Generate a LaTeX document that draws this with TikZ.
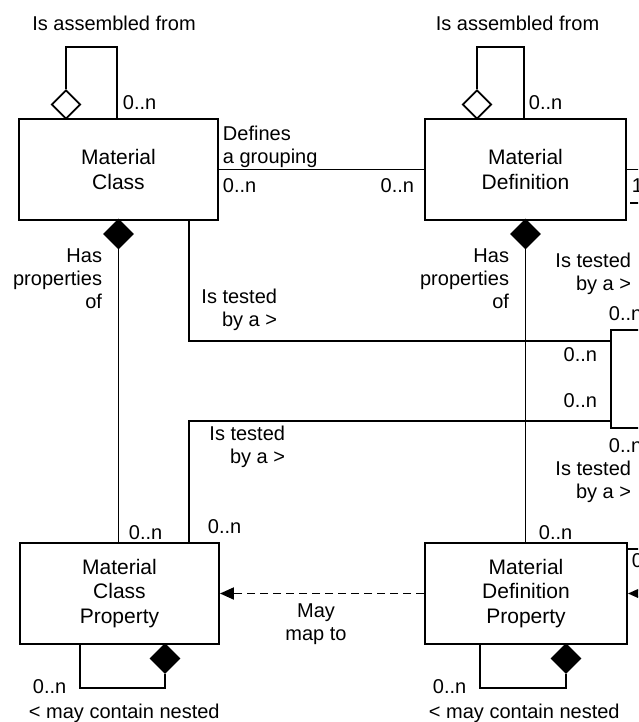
\documentclass[tikz,border=0pt]{standalone}
\usepackage{fontspec}
\setmainfont{Liberation Sans}
\usetikzlibrary{shapes.geometric,arrows.meta}

\begin{document}
\begin{tikzpicture}[x=1pt,y=-1pt,
  line width=1.9pt,
  entity/.style={draw, rectangle, align=center, minimum width=#1,
    minimum height=101pt, inner sep=0pt,
    font=\fontsize{21}{24.5}\selectfont},
  aggr/.style={draw, diamond, aspect=1, minimum width=29pt,
    minimum height=29pt, inner sep=0pt, fill=white},
  comp/.style={aggr, fill=black},
  lbl/.style={inner sep=0pt, font=\fontsize{20}{23}\selectfont},
  maplink/.style={dash pattern=on 8pt off 5pt,
    -{Triangle[length=14pt,width=12pt]}}
]
\useasboundingbox (0,0) rectangle (638,722);
\clip (0,0) rectangle (638,722);

% entities
\node[entity=199pt] (MC)  at (118.5,169.5) {Material\\Class};
\node[entity=201pt] (MD)  at (525.5,169.5) {Material\\Definition};
\node[entity=199pt] (MCP) at (119.5,593.5) {Material\\Class\\Property};
\node[entity=202pt] (MDP) at (526,593.5)   {Material\\Definition\\Property};
\node[entity=98pt, minimum height=98pt] (T) at (660,379) {};

% aggregation and composition diamonds
\node[aggr] (mcasm)   at (66,104.5) {};
\node[aggr] (mdasm)   at (477,104.5) {};
\node[comp] (mcprop)  at (118.5,234) {};
\node[comp] (mdprop)  at (525.5,234) {};
\node[comp] (mcpnest) at (165,658.5) {};
\node[comp] (mdpnest) at (566,658.5) {};

% self assembly loops
\coordinate (mcl) at (117,47);
\draw (mcasm.north) |- (mcl) -- (mcl |- MC.north);
\coordinate (mdl) at (524,47);
\draw (mdasm.north) |- (mdl) -- (mdl |- MD.north);

% grouping
\draw (MC.east) -- (MD.west);

% property compositions
\draw (mcprop.south) -- (mcprop.south |- MCP.north);
\draw (mdprop.south) -- (mdprop.south |- MDP.north);

% test links
\coordinate (t1) at (189,341);
\draw (t1 |- MC.south) -- (t1) -- (t1 -| T.west);
\coordinate (t2) at (189,421);
\draw (t2 |- MCP.north) -- (t2) -- (t2 -| T.west);

% nested property loops
\coordinate (n1) at (80,688);
\draw (n1 |- MCP.south) -- (n1) -| (mcpnest.south);
\coordinate (n2) at (480,688);
\draw (n2 |- MDP.south) -- (n2) -| (mdpnest.south);

% mapping
\draw[maplink] (MDP.west) -- (MCP.east);

% links leaving on the right
\coordinate (r1) at (650,169.5);
\draw (MD.east) -- (r1);
\coordinate (r2a) at (630,203);
\coordinate (r2b) at (650,203);
\draw (r2a) -- (r2b);
\coordinate (r3a) at (628,549);
\coordinate (r3b) at (650,549);
\draw (r3a) -- (r3b);
\coordinate (r4) at (665,0);
\draw[maplink] (r4 |- MDP.east) -- (MDP.east);

% labels
\node[lbl, anchor=base] (la1) at (114,31) {Is assembled from};
\node[lbl, anchor=base] (la2) at (517.5,31) {Is assembled from};
\node[lbl, anchor=base west] (lm1) at (122,110) {0..n};
\node[lbl, anchor=base west] (lm2) at (528,110) {0..n};
\node[lbl, anchor=north west, align=left] (lg) at (222,125.5) {Defines\\a grouping};
\node[lbl, anchor=base west] (lm3) at (222,192) {0..n};
\node[lbl, anchor=base east] (lm4) at (415,192) {0..n};
\node[lbl, anchor=base west] (lone) at (631,192) {1};
\node[lbl, anchor=north east, align=right] (lh1) at (103,247.5) {Has\\properties\\of};
\node[lbl, anchor=north east, align=right] (lh2) at (510,247.5) {Has\\properties\\of};
\node[lbl, anchor=north east, align=right] (lt1) at (278,288.5) {Is tested\\by a >};
\node[lbl, anchor=north east, align=right] (lt2) at (286,425.5) {Is tested\\by a >};
\node[lbl, anchor=north east, align=right] (lt3) at (632,252.5) {Is tested\\by a >};
\node[lbl, anchor=north east, align=right] (lt4) at (632,460.5) {Is tested\\by a >};
\node[lbl, anchor=base west] (lm5) at (608,320) {0..n};
\node[lbl, anchor=base east] (lm6) at (598,361) {0..n};
\node[lbl, anchor=base east] (lm7) at (598,407) {0..n};
\node[lbl, anchor=base west] (lm8) at (608,452) {0..n};
\node[lbl, anchor=base west] (lm9) at (128,539) {0..n};
\node[lbl, anchor=base west] (lm10) at (207,533) {0..n};
\node[lbl, anchor=base west] (lm11) at (538,539) {0..n};
\node[lbl, anchor=base west] (lzero) at (631,567) {0};
\node[lbl, anchor=north, align=center] (lmap) at (316,602.5) {May\\map to};
\node[lbl, anchor=base west] (lm12) at (32,693) {0..n};
\node[lbl, anchor=base west] (lm13) at (432,693) {0..n};
\node[lbl, anchor=base west] (ln1) at (28,718) {< may contain nested};
\node[lbl, anchor=base west] (ln2) at (428,718) {< may contain nested};
\end{tikzpicture}
\end{document}
